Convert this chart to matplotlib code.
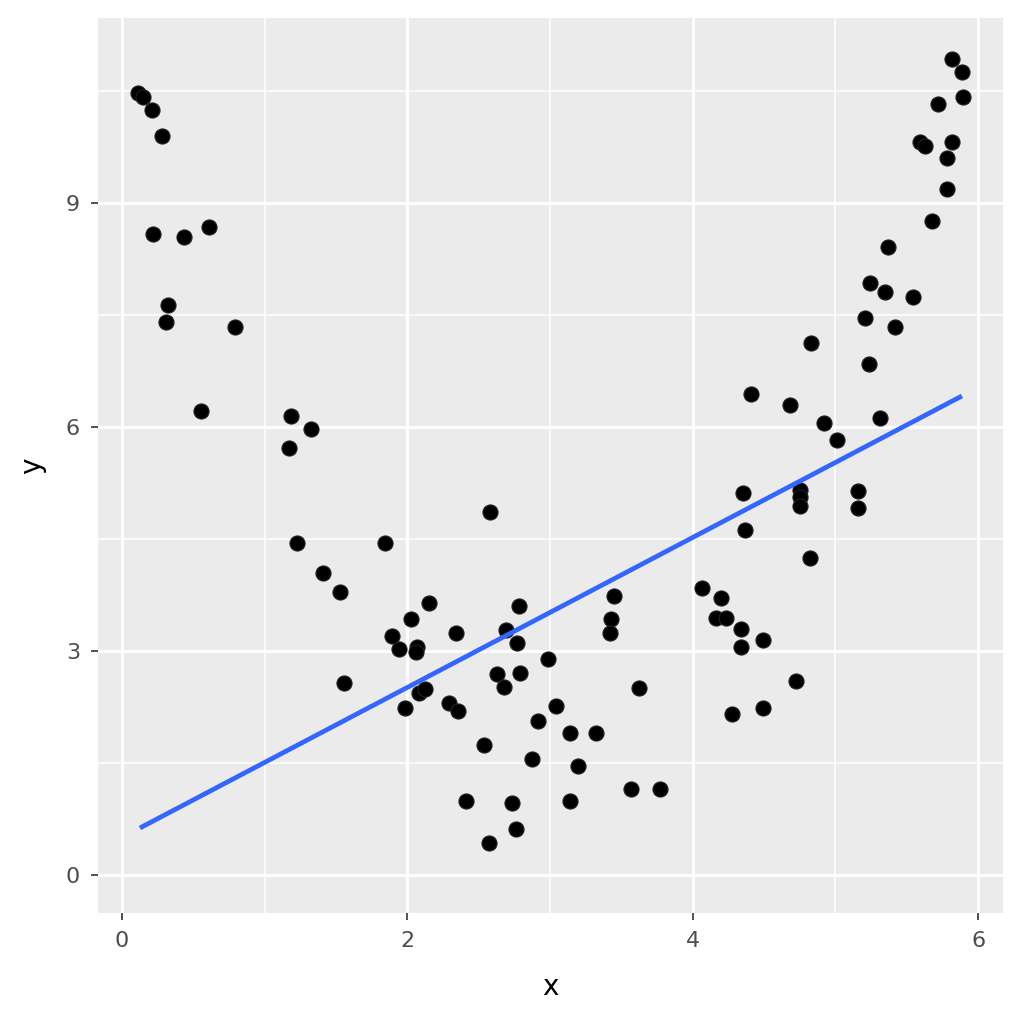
import numpy as np
import matplotlib
matplotlib.use("Agg")
import matplotlib.pyplot as plt

# points
x = [0.112, 0.147, 0.210, 0.280, 0.217, 0.434, 0.610, 0.322, 0.308, 0.792,
     0.554, 1.184, 1.324, 1.170, 1.226, 1.409, 1.528, 1.556, 1.843, 1.892,
     1.941, 2.025, 2.067, 2.060, 2.151, 1.983, 2.081, 2.123, 2.341, 2.292,
     2.355, 2.411, 2.579, 2.537, 2.572, 2.628, 2.677, 2.691, 2.768, 2.782,
     2.789, 2.733, 2.761, 2.873, 2.915, 2.985, 3.041, 3.139, 3.139, 3.195,
     3.322, 3.448, 3.427, 3.420, 3.623, 3.567, 3.770, 4.064, 4.163, 4.198,
     4.233, 4.275, 4.338, 4.338, 4.352, 4.366, 4.408, 4.492, 4.492, 4.681,
     4.723, 4.751, 4.751, 4.751, 4.821, 4.828, 4.919, 5.011, 5.158, 5.158,
     5.207, 5.235, 5.242, 5.312, 5.347, 5.368, 5.417, 5.543, 5.592, 5.627,
     5.676, 5.718, 5.781, 5.781, 5.816, 5.816, 5.886, 5.893]
y = [10.473, 10.419, 10.245, 9.897, 8.584, 8.544, 8.678, 7.634, 7.406, 7.339,
     6.214, 6.147, 5.973, 5.718, 4.446, 4.044, 3.790, 2.571, 4.446, 3.201,
     3.027, 3.428, 3.053, 2.986, 3.643, 2.236, 2.437, 2.491, 3.241, 2.303,
     2.196, 0.991, 4.861, 1.741, 0.429, 2.692, 2.518, 3.281, 3.107, 3.603,
     2.705, 0.964, 0.616, 1.554, 2.062, 2.893, 2.263, 1.902, 0.991, 1.460,
     1.902, 3.736, 3.428, 3.241, 2.504, 1.152, 1.152, 3.844, 3.442, 3.710,
     3.442, 2.156, 3.295, 3.053, 5.116, 4.620, 6.442, 3.147, 2.236, 6.294,
     2.598, 5.156, 5.062, 4.942, 4.245, 7.125, 6.053, 5.826, 5.143, 4.915,
     7.460, 6.843, 7.928, 6.120, 7.808, 8.410, 7.339, 7.741, 9.817, 9.763,
     8.759, 10.325, 9.602, 9.187, 9.817, 10.928, 10.754, 10.419]

# fitted line (lm) endpoints
line_x = [0.126, 5.886]
line_y = [0.63, 6.415]

x_ticks = [0, 2, 4, 6]
y_ticks = [0, 3, 6, 9]

fig = plt.figure(figsize=(10.24, 10.24), dpi=100)
ax = fig.add_axes([0.0957, 0.1084, 0.8838, 0.874])
ax.set_facecolor("#EBEBEB")

ax.set_xlim(-0.168, 6.174)
ax.set_ylim(-0.509, 11.477)

# ggplot-like grid
for v in [1, 3, 5]:
    ax.axvline(v, color="white", lw=1.1, zorder=0)
for v in [1.5, 4.5, 7.5, 10.5]:
    ax.axhline(v, color="white", lw=1.1, zorder=0)
for v in x_ticks:
    ax.axvline(v, color="white", lw=2.2, zorder=0)
for v in y_ticks:
    ax.axhline(v, color="white", lw=2.2, zorder=0)

ax.scatter(x, y, s=118, color="black", edgecolor="#222222", linewidth=0.8, zorder=2)
ax.plot(line_x, line_y, color="#3366FF", lw=3.4, zorder=3, solid_capstyle="butt")

for s in ax.spines.values():
    s.set_visible(False)

ax.set_xticks(x_ticks)
ax.set_yticks(y_ticks)
ax.tick_params(axis="both", length=5, width=1.2, color="#333333",
               labelcolor="#4D4D4D", labelsize=16, pad=8)
ax.set_xlabel("x", fontsize=20, color="black", labelpad=16)
ax.set_ylabel("y", fontsize=20, color="black", labelpad=14)

fig.savefig("out.png", dpi=100, facecolor="white")
